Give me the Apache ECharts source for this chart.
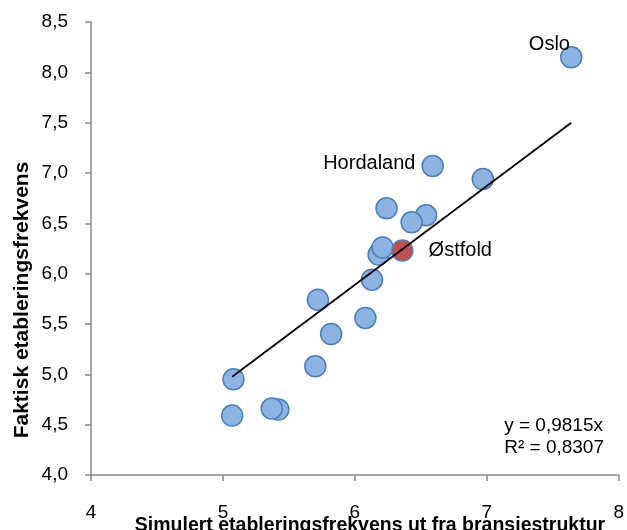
<!DOCTYPE html>
<html>
<head>
<meta charset="utf-8">
<script src="https://cdn.jsdelivr.net/npm/echarts@6/dist/echarts.min.js"></script>
<style>
html,body{margin:0;padding:0;background:#fff;}
#chart{width:627px;height:530px;}
</style>
</head>
<body>
<div id="chart"></div>
<script>
// Simulated vs actual establishment frequency per county
const simX = [5.08, 5.07, 5.42, 5.37, 5.72, 5.82, 5.70, 6.08, 6.13, 6.18, 6.21, 6.24, 6.54, 6.43, 6.59, 6.97, 7.64];
const faktY = [4.95, 4.59, 4.65, 4.66, 5.74, 5.40, 5.08, 5.56, 5.94, 6.19, 6.26, 6.65, 6.58, 6.51, 7.07, 6.94, 8.15];
const names = ['', '', '', '', '', '', '', '', '', '', '', '', '', '', 'Hordaland', '', 'Oslo'];
const ostfold = [6.36, 6.23];
const ostfoldName = 'Østfold';
const slope = 0.9815;
const r2Text = 'R² = 0,8307';
const eqText = 'y = 0,9815x';
const xTitle = 'Simulert etableringsfrekvens ut fra bransjestruktur';
const yTitle = 'Faktisk etableringsfrekvens';

const FONT = '"Liberation Sans", Arial, sans-serif';
const allX = simX.concat([ostfold[0]]);
const xMin = Math.min.apply(null, allX), xMax = Math.max.apply(null, allX);

const labelPos = {
  'Hordaland': {position: 'left', distance: 6, offset: [0, -2]},
  'Oslo': {position: 'left', distance: 6, offset: [16, -13]}
};

const blueData = simX.map((x, i) => {
  const d = {value: [x, faktY[i]], name: names[i]};
  if (names[i]) {
    const p = labelPos[names[i]];
    d.label = {show: true, formatter: names[i], position: p.position, distance: p.distance, offset: p.offset,
      color: '#000', fontSize: 20, fontFamily: FONT};
  }
  return d;
});

const chart = echarts.init(document.getElementById('chart'), null, {renderer: 'canvas'});
chart.setOption({
  animation: false,
  backgroundColor: '#fff',
  grid: {left: 91, top: 22, right: 7, bottom: 55, containLabel: false},
  xAxis: {
    type: 'value', min: 4, max: 8, interval: 1,
    axisLine: {show: true, onZero: false, lineStyle: {color: '#888', width: 1.5}},
    axisTick: {show: true, length: 6, lineStyle: {color: '#888', width: 1.5}},
    splitLine: {show: false},
    axisLabel: {margin: 28, fontSize: 19, color: '#000', fontFamily: FONT}
  },
  yAxis: {
    type: 'value', min: 4, max: 8.5, interval: 0.5,
    axisLine: {show: true, onZero: false, lineStyle: {color: '#888', width: 1.5}},
    axisTick: {show: true, length: 6, lineStyle: {color: '#888', width: 1.5}},
    splitLine: {show: false},
    axisLabel: {margin: 23, fontSize: 19, color: '#000', fontFamily: FONT,
      formatter: v => v.toFixed(1).replace('.', ',')}
  },
  series: [
    {
      type: 'scatter', symbolSize: 21, z: 2,
      itemStyle: {color: '#8db3e2', borderColor: '#4a7ebb', borderWidth: 1.5, opacity: 1},
      data: blueData
    },
    {
      type: 'scatter', symbolSize: 21, z: 3,
      itemStyle: {color: '#c0504d', borderColor: '#5a7fb8', borderWidth: 1.5, opacity: 1},
      label: {show: true, formatter: ostfoldName, position: 'right', distance: 15,
        color: '#000', fontSize: 20, fontFamily: FONT},
      data: [ostfold]
    },
    {
      type: 'line', z: 5, symbol: 'none', silent: true,
      lineStyle: {color: '#000', width: 1.8},
      data: [[xMin, slope * xMin], [xMax, slope * xMax]]
    }
  ],
  graphic: [
    {type: 'text', left: 'auto', right: 23, top: 415,
      style: {text: eqText + '\n' + r2Text, font: '19px ' + FONT, fill: '#000', align: 'right', lineHeight: 22}},
    {type: 'text', x: 370, y: 526,
      style: {text: xTitle, font: 'bold 19.5px ' + FONT, fill: '#000', align: 'center', verticalAlign: 'middle'}},
    {type: 'text', x: 22, y: 300, rotation: Math.PI / 2,
      style: {text: yTitle, font: 'bold 21px ' + FONT, fill: '#000', align: 'center', verticalAlign: 'middle'}}
  ]
});
</script>
</body>
</html>
